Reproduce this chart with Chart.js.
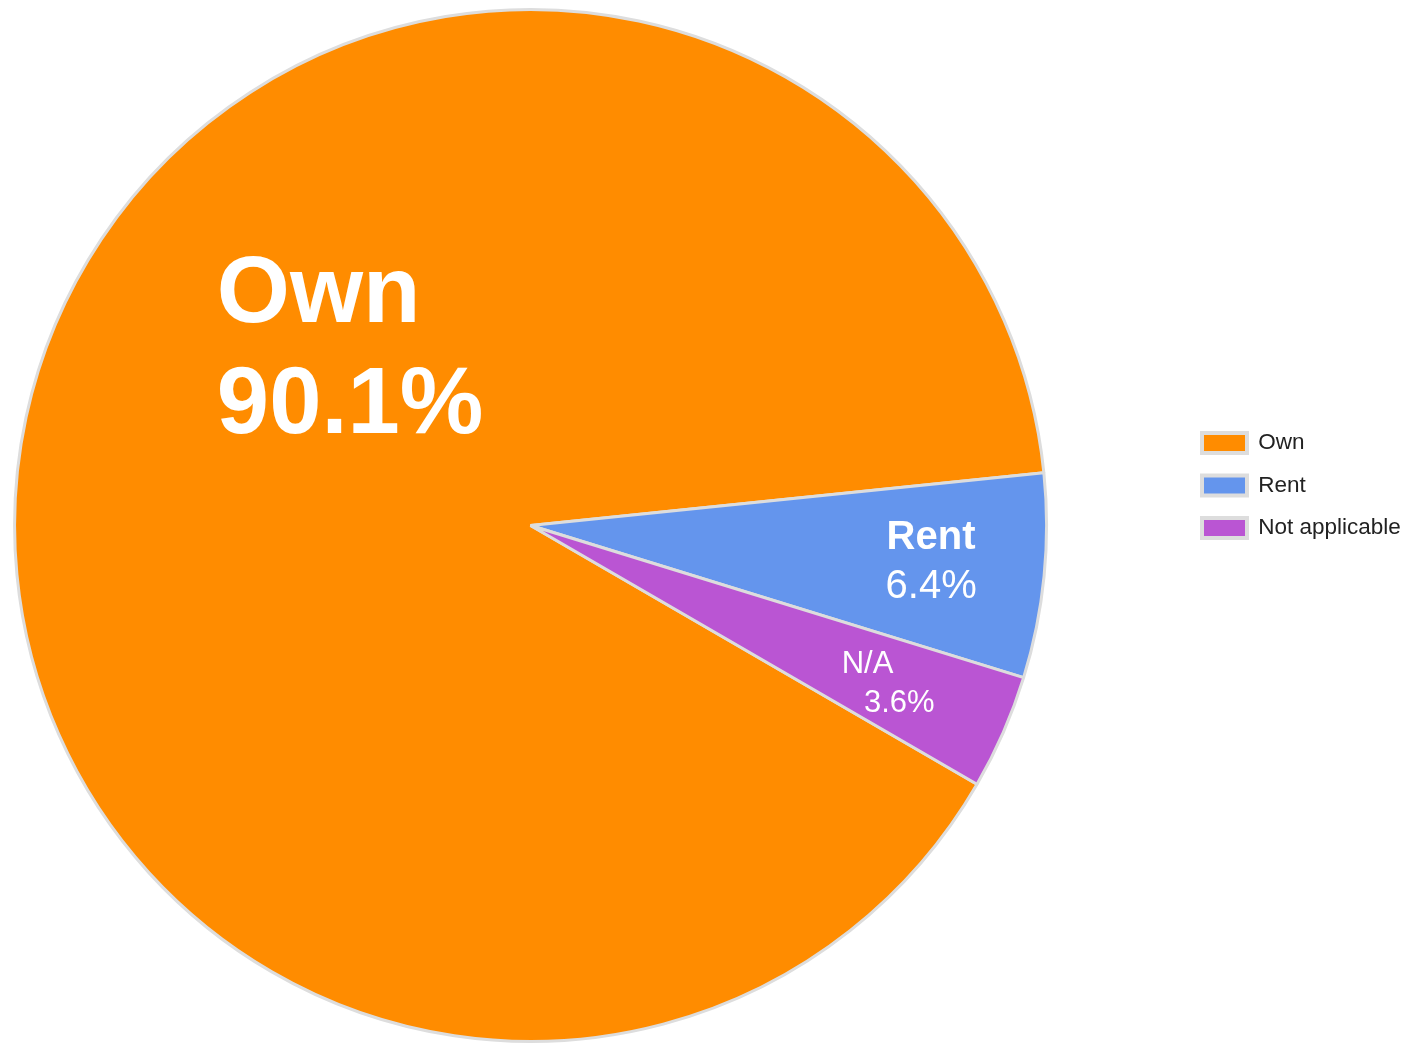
<!DOCTYPE html>
<html>
<head>
<meta charset="utf-8">
<script src="https://cdn.jsdelivr.net/npm/chart.js@4.4.1/dist/chart.umd.min.js"></script>
<style>
html,body{margin:0;padding:0;background:#fff;}
#wrap{width:1407px;height:1046px;position:relative;}
</style>
</head>
<body>
<div id="wrap"><canvas id="tenure"></canvas></div>
<script>
var categories=['Own','Rent','Not applicable'],
    shortNames=['Own','Rent','N/A'],
    shares=[90.1,6.4,3.6];

var fontFamily='"Liberation Sans", Arial, sans-serif';

// white text inside the slices, placed relative to the pie centre/radius
var sliceLabels={
    id:'sliceLabels',
    afterDatasetsDraw:function(chart,args,opts){
        var ctx=chart.ctx, arcs=chart.getDatasetMeta(0).data;
        ctx.save();
        ctx.fillStyle='#ffffff';
        ctx.textAlign='left';
        ctx.textBaseline='alphabetic';
        opts.items.forEach(function(it,i){
            var a=arcs[i], r=a.outerRadius,
                lines=[shortNames[i], shares[i].toFixed(1)+'%'];
            lines.forEach(function(txt,k){
                ctx.font=it.weight[k]+' '+it.size+'px '+fontFamily;
                ctx.fillText(txt, a.x+r*it.dx[k], a.y+r*it.dy[k]);
            });
        });
        ctx.restore();
    }
};

// push the legend out to the right edge like the original
var legendSpot={
    id:'legendSpot',
    afterLayout:function(chart,args,opts){
        var lg=chart.legend, w=lg.right-lg.left, h=lg.bottom-lg.top;
        lg.left=opts.left; lg.right=opts.left+w;
        lg.top+=opts.shiftY; lg.bottom=lg.top+h;
    }
};

var baseLabels=Chart.overrides.pie.plugins.legend.labels.generateLabels;

new Chart(document.getElementById('tenure'),{
    type:'pie',
    data:{
        labels:categories,
        datasets:[{
            data:shares,
            backgroundColor:['#FF8C00','#6495ED','#BA55D3'],
            borderColor:'#DDDDDD',
            borderWidth:3
        }]
    },
    options:{
        responsive:true,
        maintainAspectRatio:false,
        animation:false,
        rotation:120.1,
        layout:{padding:{top:8,bottom:3,left:0,right:117}},
        plugins:{
            tooltip:{enabled:false},
            legend:{
                position:'right',
                labels:{
                    boxWidth:45,
                    boxHeight:20,
                    padding:20,
                    color:'#222222',
                    font:{family:fontFamily,size:22.5},
                    generateLabels:function(chart){
                        return baseLabels(chart).map(function(l){ l.lineWidth=4; l.strokeStyle='#DDDDDD'; return l; });
                    }
                }
            },
            legendSpot:{left:1182,shiftY:-40},
            sliceLabels:{
                items:[
                    {size:94,weight:['bold','bold'],dx:[-0.608,-0.608],dy:[-0.394,-0.179]},
                    {size:40,weight:['bold','normal'],dx:[0.690,0.688],dy:[0.0455,0.140]},
                    {size:31,weight:['normal','normal'],dx:[0.603,0.646],dy:[0.285,0.361]}
                ]
            }
        }
    },
    plugins:[sliceLabels,legendSpot]
});
</script>
</body>
</html>
